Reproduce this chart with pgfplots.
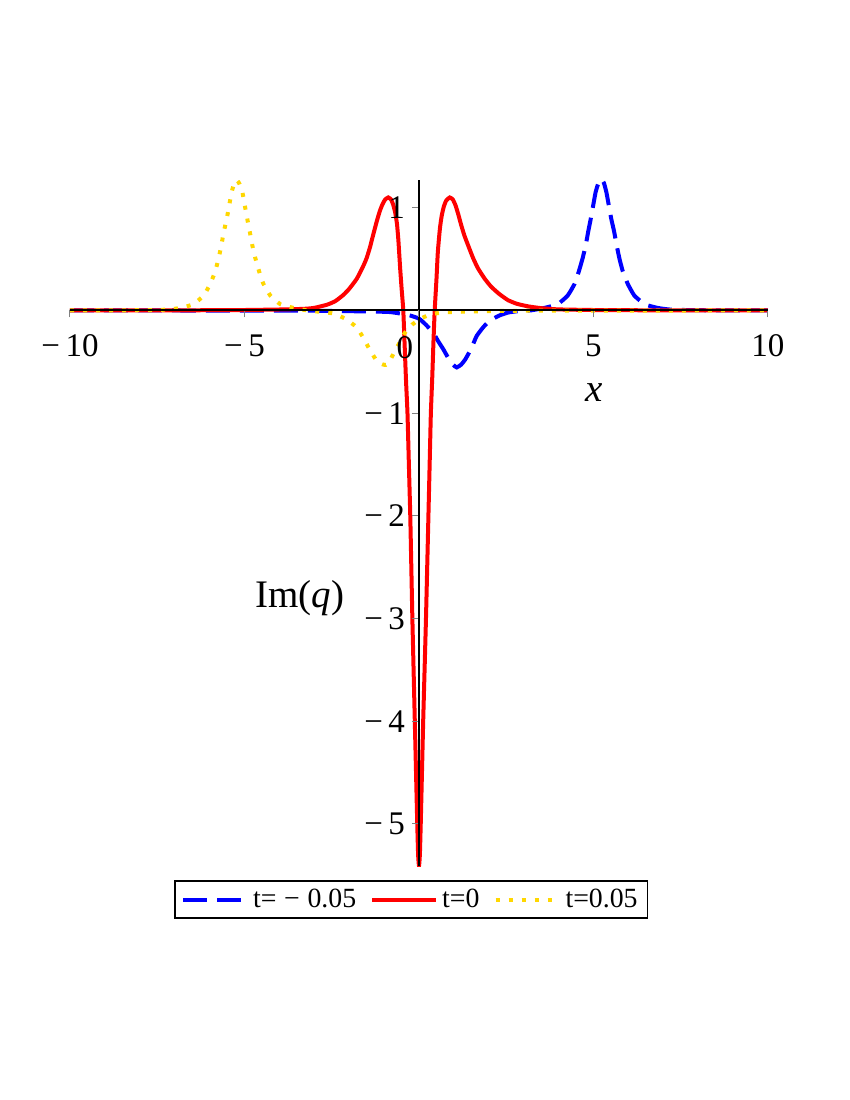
\documentclass[border=0pt]{standalone}
\usepackage{fontspec}
\setmainfont{Liberation Serif}
\usepackage{pgfplots}
\pgfplotsset{compat=1.18}
\definecolor{mblue}{RGB}{0,0,255}
\definecolor{mred}{RGB}{255,0,0}
\definecolor{mgold}{RGB}{255,215,0}
\begin{document}
\begin{tikzpicture}
\useasboundingbox (-35pt,-117pt) rectangle (390pt,433pt);
\begin{axis}[
  scale only axis, width=349pt, height=343pt,
  xmin=-10, xmax=10, ymin=-5.41, ymax=1.27,
  axis lines=middle, axis line style={-, black, line width=1pt},
  axis on top,
  hide obscured x ticks=false, hide obscured y ticks=false,
  xtick={-10,-5,5,10},
  xticklabels={\mbox{−\,10},\mbox{−\,5},\mbox{5},\mbox{10}},
  minor x tick num=4,
  ytick={-5,-4,-3,-2,-1,1},
  yticklabels={\mbox{−\,5},\mbox{−\,4},\mbox{−\,3},\mbox{−\,2},\mbox{−\,1},\mbox{1}},
  minor y tick num=1,
  tick align=outside,
  major tick length=3.5pt, minor tick length=1.5pt,
  every tick/.style={gray, line width=0.5pt},
  tick label style={font=\fontsize{16.5}{18}\selectfont},
  xticklabel style={yshift=-5pt},
  extra x ticks={0}, extra x tick labels={\mbox{0}},
  extra x tick style={xticklabel style={xshift=-7pt, yshift=-1pt}},
  xlabel={\textit{x}}, ylabel={Im(\textit{q})},
  every axis x label/.style={at={(axis description cs:0.7507,0.6900)}, anchor=center, font=\fontsize{19.5}{22}\selectfont},
  every axis y label/.style={at={(axis description cs:0.3295,0.3907)}, anchor=center, font=\fontsize{19.5}{22}\selectfont},
  legend columns=3,
  legend style={at={(axis description cs:0.489,-0.0204)}, anchor=north,
    draw=black, line width=0.8pt, inner xsep=3pt, inner ysep=2pt,
    font=\fontsize{13.9}{16}\selectfont,
    /tikz/every even column/.append style={column sep=5pt}},
  legend image code/.code={\draw[#1] (0pt,0pt) -- (32pt,0pt);},
]
% t = -0.05
\addplot[mblue, line width=2pt, dash pattern=on 12pt off 5pt, smooth, tension=0.3] coordinates {
(-10,0)(-6,-0.001)(-3,-0.003)(-1.5,-0.01)(-0.86,-0.015)(-0.54,-0.03)(-0.25,-0.05)
(0,-0.08)(0.2,-0.14)(0.41,-0.22)(0.55,-0.3)(0.7,-0.38)(0.85,-0.47)(0.98,-0.53)(1.08,-0.555)
(1.2,-0.53)(1.32,-0.48)(1.5,-0.37)(1.65,-0.25)(1.85,-0.16)(2.03,-0.10)(2.3,-0.05)
(2.56,-0.02)(2.9,-0.005)(3.2,0.0)(3.6,0.025)(3.97,0.06)(4.26,0.145)(4.46,0.26)(4.58,0.38)
(4.69,0.51)(4.78,0.64)(4.85,0.77)(4.92,0.89)(4.99,1.02)(5.06,1.15)(5.14,1.24)(5.22,1.28)
(5.30,1.24)(5.37,1.15)(5.44,1.02)(5.51,0.89)(5.59,0.77)(5.66,0.64)(5.74,0.51)(5.84,0.38)
(5.98,0.26)(6.17,0.145)(6.47,0.06)(6.83,0.025)(7.21,0.008)(8,0.002)(10,0)};
\addlegendentry{t=\;−\;0.05}
% t = 0
\addplot[mred, line width=2pt, smooth, tension=0.3] coordinates {
(-10,0)(-8,0)(-6,0.002)(-5,0.004)(-4,0.009)(-3.5,0.013)(-3.22,0.017)(-3.0,0.025)
(-2.64,0.055)(-2.4,0.09)(-2.17,0.15)(-2.0,0.21)(-1.78,0.31)(-1.6,0.43)(-1.5,0.51)
(-1.4,0.62)(-1.31,0.74)(-1.2,0.88)(-1.12,0.97)(-1.05,1.03)(-0.97,1.08)(-0.88,1.10)
(-0.8,1.08)(-0.74,1.03)(-0.68,0.95)(-0.63,0.84)(-0.59,0.68)(-0.54,0.41)(-0.5,0.22)
(-0.45,0)(-0.41,-0.35)
(-0.37,-0.7)(-0.33,-1.0)(-0.29,-1.5)(-0.25,-2.0)(-0.22,-2.5)(-0.19,-3.0)(-0.155,-3.5)
(-0.12,-4.0)(-0.085,-4.5)(-0.05,-5.0)(-0.025,-5.3)(0,-5.41)
(0.025,-5.3)(0.05,-5.0)(0.085,-4.5)(0.12,-4.0)(0.16,-3.5)(0.2,-3.0)(0.235,-2.5)(0.27,-2.0)
(0.305,-1.5)(0.34,-1.0)(0.38,-0.65)(0.415,-0.3)(0.45,0)(0.5,0.3)(0.54,0.57)(0.6,0.8)
(0.65,0.92)(0.71,1.01)(0.78,1.07)(0.88,1.10)(0.97,1.08)(1.05,1.02)(1.13,0.93)(1.21,0.83)
(1.3,0.73)(1.40,0.64)
(1.55,0.51)(1.69,0.41)(1.88,0.31)(2.07,0.23)(2.3,0.16)(2.55,0.10)(2.8,0.065)(3.12,0.04)
(3.5,0.022)(4,0.01)(5,0.004)(6,0.002)(8,0)(10,0)};
\addlegendentry{t=0}
% t = 0.05
\addplot[mgold, line width=2pt, dash pattern=on 2pt off 4.5pt, smooth, tension=0.3] coordinates {
(-10,0)(-8,0.002)(-7.21,0.008)(-6.83,0.025)(-6.47,0.06)(-6.17,0.145)(-5.98,0.26)
(-5.84,0.38)(-5.74,0.51)(-5.66,0.64)(-5.59,0.77)(-5.51,0.89)(-5.44,1.02)(-5.37,1.15)
(-5.30,1.23)(-5.22,1.27)(-5.14,1.23)(-5.06,1.15)(-4.99,1.02)(-4.92,0.89)(-4.85,0.77)
(-4.78,0.64)(-4.69,0.51)(-4.58,0.38)(-4.46,0.26)(-4.26,0.145)(-3.97,0.06)(-3.6,0.025)
(-3.2,0.0)(-2.8,-0.015)(-2.45,-0.03)(-2.12,-0.08)(-1.8,-0.16)(-1.59,-0.27)(-1.4,-0.39)
(-1.19,-0.50)(-1.05,-0.525)(-0.95,-0.53)(-0.85,-0.5)(-0.7,-0.40)(-0.55,-0.31)(-0.41,-0.22)
(-0.2,-0.14)(0,-0.09)(0.31,-0.04)(0.7,-0.02)(1.5,-0.01)(3,-0.003)(10,0)};
\addlegendentry{t=0.05}
\end{axis}
\end{tikzpicture}
\end{document}
